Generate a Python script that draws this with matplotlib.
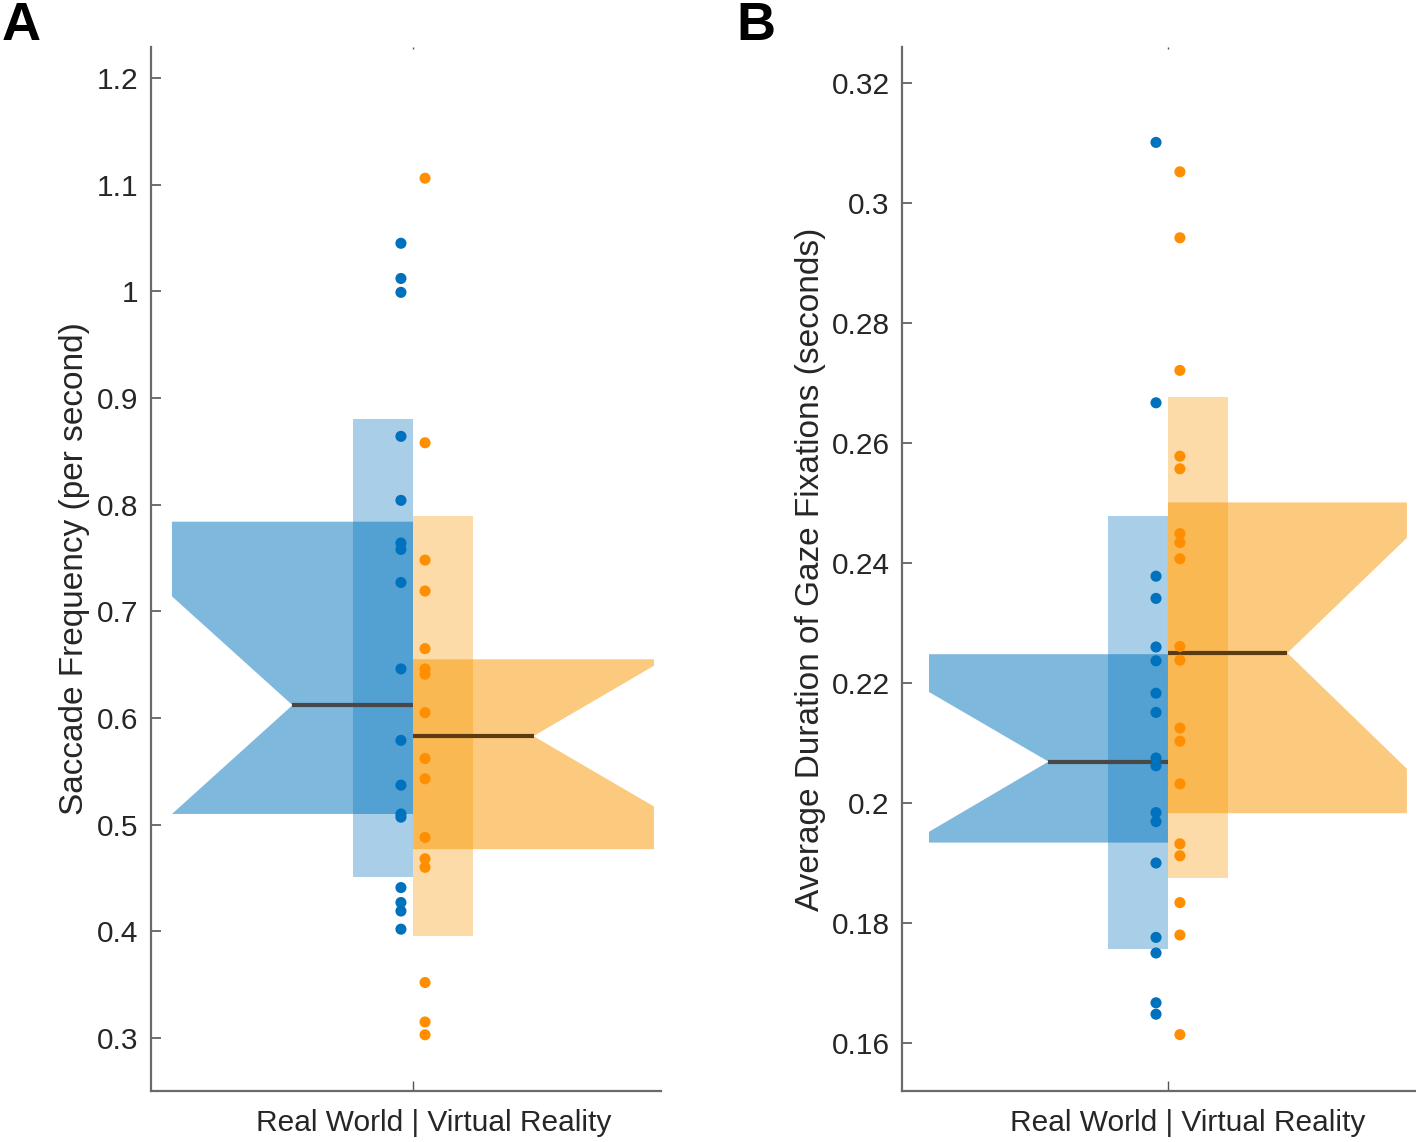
import matplotlib.pyplot as plt
from matplotlib.patches import Polygon, Rectangle

plt.rcParams['font.family'] = ['Liberation Sans', 'DejaVu Sans']

groups = ['Real World', 'Virtual Reality']
colors_dot = ['#0072BD', '#FF8F00']
colors_box = ['#0072BD', '#F99600']

# Panel A: saccade frequency (per second)
a_real = [1.045, 1.012, 0.999, 0.864, 0.804, 0.764, 0.758, 0.727, 0.646,
          0.579, 0.537, 0.510, 0.507, 0.441, 0.427, 0.419, 0.402]
a_vr = [1.106, 0.858, 0.748, 0.719, 0.665, 0.646, 0.641, 0.605, 0.562,
        0.543, 0.488, 0.468, 0.460, 0.352, 0.315, 0.303]
# q1, notch low, median, notch high, q3
a_box = [[0.510, 0.510, 0.612, 0.714, 0.784],
         [0.477, 0.517, 0.583, 0.649, 0.655]]
# narrow bar: low, high
a_bar = [[0.451, 0.880], [0.396, 0.789]]

# Panel B: average duration of gaze fixations (seconds)
b_real = [0.3101, 0.2667, 0.2378, 0.2341, 0.2260, 0.2237, 0.2183, 0.2151,
          0.2075, 0.2062, 0.1984, 0.1969, 0.1900, 0.1776, 0.1750, 0.1667, 0.1648]
b_vr = [0.3052, 0.2942, 0.2721, 0.2578, 0.2557, 0.2449, 0.2434, 0.2407,
        0.2261, 0.2238, 0.2125, 0.2103, 0.2032, 0.1932, 0.1912, 0.1834,
        0.1780, 0.1614]
b_box = [[0.1934, 0.1952, 0.2069, 0.2185, 0.2248],
         [0.1983, 0.2057, 0.2250, 0.2442, 0.2501]]
b_bar = [[0.1757, 0.2479], [0.1875, 0.2677]]

a_ticks = [0.3, 0.4, 0.5, 0.6, 0.7, 0.8, 0.9, 1.0, 1.1, 1.2]
a_ticklabels = ['0.3', '0.4', '0.5', '0.6', '0.7', '0.8', '0.9', '1', '1.1', '1.2']
b_ticks = [0.16, 0.18, 0.20, 0.22, 0.24, 0.26, 0.28, 0.30, 0.32]
b_ticklabels = ['0.16', '0.18', '0.2', '0.22', '0.24', '0.26', '0.28', '0.3', '0.32']

fig = plt.figure(figsize=(14.16, 11.42), dpi=100)
axA = fig.add_axes([151 / 1416, 1 - 1091 / 1142, 510 / 1416, 1044 / 1142])
axB = fig.add_axes([902 / 1416, 1 - 1091 / 1142, 514 / 1416, 1044 / 1142])


def half_box(ax, side, box, bar, col):
    q1, nlo, med, nhi, q3 = box
    w = 1.0
    s = -1 if side == 0 else 1
    pts = [(0, q3), (s * w, q3), (s * w, nhi), (s * w / 2, med),
           (s * w, nlo), (s * w, q1), (0, q1)]
    ax.add_patch(Polygon(pts, closed=True, facecolor=col, alpha=0.5,
                         edgecolor='none', zorder=2))
    x0 = -0.25 if side == 0 else 0
    ax.add_patch(Rectangle((x0, bar[0]), 0.25, bar[1] - bar[0], facecolor=col,
                           alpha=0.34, edgecolor='none', zorder=2))


def panel(ax, real, vr, boxes, bars, ylim, xlim, ticks, ticklabels, ylabel, lab_x):
    for side in range(2):
        half_box(ax, side, boxes[side], bars[side], colors_box[side])
    # medians
    ax.plot([-0.5, 0], [boxes[0][2]] * 2, color='#484848', lw=3, zorder=3,
            solid_capstyle='butt')
    ax.plot([0, 0.5], [boxes[1][2]] * 2, color='#5a3b12', lw=3, zorder=3,
            solid_capstyle='butt')
    ax.scatter([-0.05] * len(real), real, s=64, color=colors_dot[0],
               edgecolor='none', zorder=4)
    ax.scatter([0.05] * len(vr), vr, s=64, color=colors_dot[1],
               edgecolor='none', zorder=4)

    ax.set_xlim(xlim)
    ax.set_ylim(ylim)
    ax.set_yticks(ticks)
    ax.set_yticklabels(ticklabels)
    ax.set_xticks([0])
    ax.set_xticklabels([''])
    for sp in ['top', 'right']:
        ax.spines[sp].set_visible(False)
    for sp in ['left', 'bottom']:
        ax.spines[sp].set_color('#6a6a6a')
        ax.spines[sp].set_linewidth(1.6)
    ax.tick_params(axis='y', direction='in', length=7, width=1.2,
                   colors='#555555', labelcolor='#262626', labelsize=21.5, pad=9)
    ax.tick_params(axis='x', direction='in', length=7, width=1.0,
                   colors='#555555', top=True)
    for t in ax.xaxis.get_major_ticks():
        t.tick2line.set_markersize(1.5)
    ax.set_ylabel(ylabel, fontsize=24, color='#262626')
    ax.yaxis.set_label_coords(lab_x, 0.5)
    ax.set_xlabel(groups[0] + ' | ' + groups[1], fontsize=21.5, color='#262626')
    ax.xaxis.set_label_coords(0.555, -0.017)


panel(axA, a_real, a_vr, a_box, a_bar, (0.2503, 1.229), (-1.087, 1.029),
      a_ticks, a_ticklabels, 'Saccade Frequency (per second)', -0.12)
panel(axB, b_real, b_vr, b_box, b_bar, (0.152, 0.326), (-1.113, 1.038),
      b_ticks, b_ticklabels, 'Average Duration of Gaze Fixations (seconds)', -0.148)

fig.text(0.001, 0.999, 'A', fontsize=39, fontweight='bold', va='top', ha='left')
fig.text(736 / 1416, 0.999, 'B', fontsize=39, fontweight='bold', va='top', ha='left')

fig.savefig('out.png', dpi=100)
